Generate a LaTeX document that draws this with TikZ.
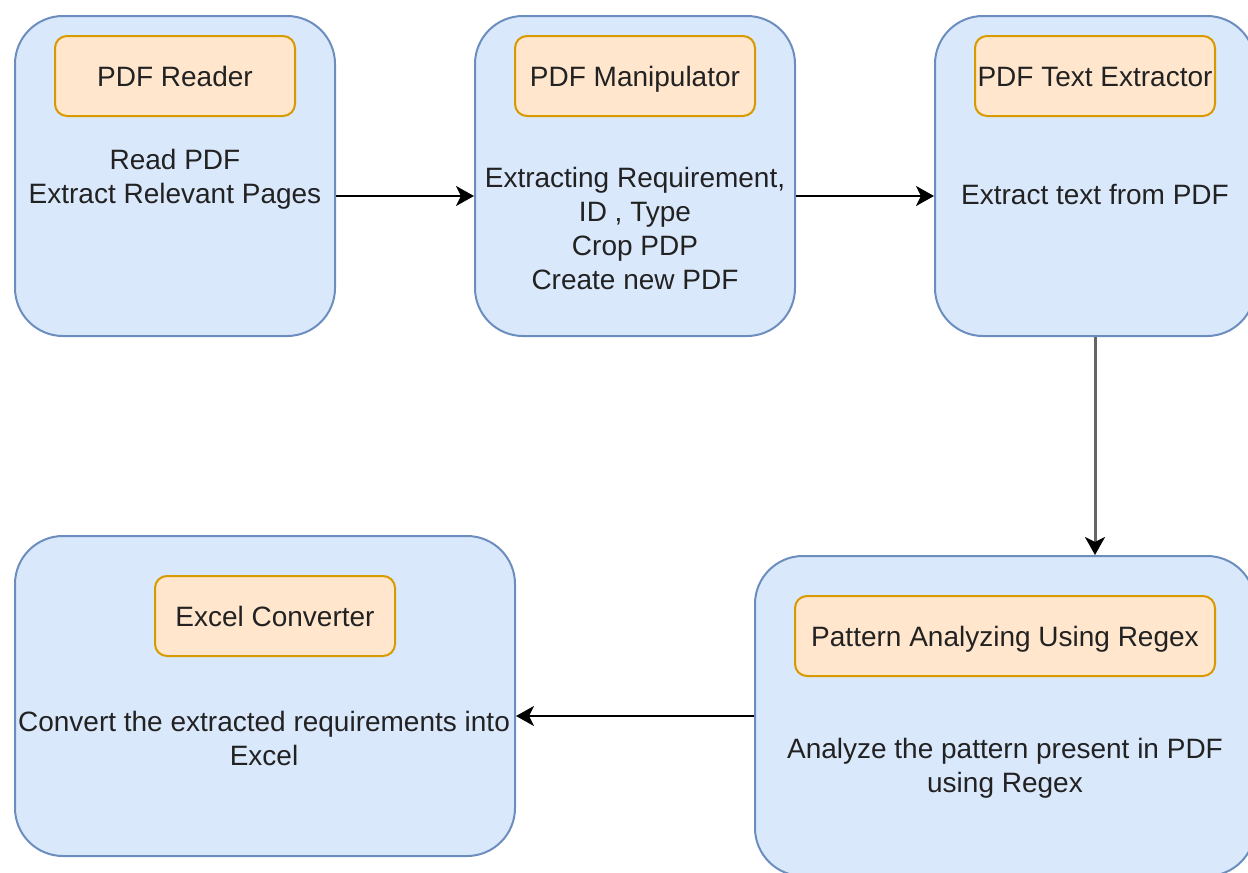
\documentclass[tikz,border=0pt]{standalone}
\usepackage{fontspec}
\setmainfont{Liberation Sans}
\usetikzlibrary{arrows.meta}

\definecolor{stageFill}{HTML}{DAE8FC}
\definecolor{stageLine}{HTML}{6C8EBF}
\definecolor{titleFill}{HTML}{FFE6CC}
\definecolor{titleLine}{HTML}{D79B00}
\definecolor{textDark}{HTML}{222222}
\definecolor{linkGray}{HTML}{666666}

\begin{document}
\begin{tikzpicture}[x=1pt, y=-1pt, line width=2pt,
    stage/.style={draw=stageLine, fill=stageFill, rounded corners=48pt, inner sep=0pt,
        minimum width=320pt, minimum height=320pt},
    title/.style={draw=titleLine, fill=titleFill, rounded corners=12pt, inner sep=0pt,
        minimum width=240pt, minimum height=80pt, text height=23pt, text depth=3pt,
        text=textDark, font=\fontsize{28}{34}\selectfont},
    body/.style={align=center, text=textDark, font=\fontsize{28}{34}\selectfont, inner sep=0pt},
    flow/.style={-{Stealth[length=18pt, width=20pt, inset=5pt, color=black]}, line width=2.5pt}]
    \useasboundingbox (0,0) rectangle (1248,873);
    \clip (0,0) rectangle (1248,873);
    % stages
    \node[stage] (reader) at (175,176) {};
    \node[stage] (manip) at (635,176) {};
    \node[stage] (extract) at (1095,176) {};
    \node[stage, minimum width=500pt] (pattern) at (1005,716) {};
    \node[stage, minimum width=500pt] (excel) at (265,696) {};
    % titles
    \node[title] (readerT) at (175,76) {PDF Reader};
    \node[title] (manipT) at (635,76) {PDF Manipulator};
    \node[title] (extractT) at (1095,76) {PDF Text Extractor};
    \node[title, minimum width=420pt] (patternT) at (1005,636) {Pattern Analyzing Using Regex};
    \node[title] (excelT) at (275,616) {Excel Converter};
    % descriptions
    \node[body] (readerB) at (175,179) {Read PDF\\Extract Relevant Pages};
    \node[body] (manipB) at (635,228) {Extracting Requirement,\\ID , Type\\Crop PDP\\Create new PDF};
    \node[body] (extractB) at (1095,195) {Extract text from PDF};
    \node[body] (patternB) at (1005,768) {Analyze the pattern present in PDF\\using Regex};
    \node[body] (excelB) at (264,738) {Convert the extracted requirements into\\Excel};
    % links
    \draw[flow] ([yshift=-20pt]reader.east) -- ([yshift=-20pt]manip.west);
    \draw[flow] ([yshift=-20pt]manip.east) -- ([yshift=-20pt]extract.west);
    \draw[flow, linkGray, line width=3pt] (extract.south) -- (extract.south |- pattern.north);
    \draw[flow] (pattern.west) -- (pattern.west -| excel.east);
\end{tikzpicture}
\end{document}
